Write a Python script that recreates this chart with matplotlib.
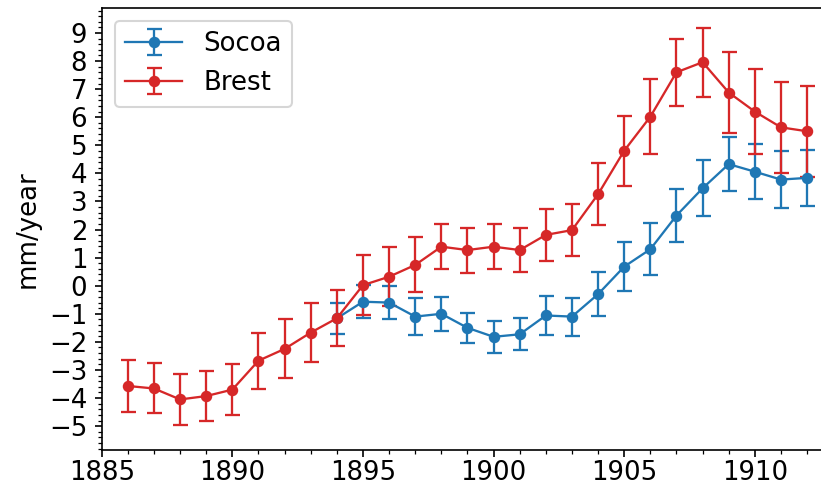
import matplotlib
matplotlib.use("Agg")
import matplotlib.pyplot as plt
from matplotlib.ticker import MultipleLocator

# Brest record, 1886-1912
brest_years = list(range(1886, 1913))
brest_rate = [-3.57, -3.66, -4.05, -3.93, -3.70, -2.67, -2.25, -1.67, -1.16,
              0.02, 0.32, 0.74, 1.39, 1.27, 1.39, 1.27, 1.81, 1.98,
              3.26, 4.81, 6.02, 7.60, 7.96, 6.88, 6.20, 5.64, 5.50]
brest_err = [0.93, 0.89, 0.92, 0.90, 0.92, 1.00, 1.05, 1.04, 1.00,
             1.08, 1.05, 0.98, 0.80, 0.80, 0.80, 0.78, 0.92, 0.93,
             1.10, 1.25, 1.33, 1.20, 1.23, 1.44, 1.51, 1.62, 1.62]

# Socoa record, 1894-1912
socoa_years = list(range(1894, 1913))
socoa_rate = [-1.16, -0.57, -0.60, -1.10, -1.00, -1.50, -1.82, -1.73, -1.06, -1.10,
              -0.30, 0.68, 1.30, 2.50, 3.47, 4.33, 4.06, 3.78, 3.84]
socoa_err = [0.56, 0.59, 0.60, 0.65, 0.60, 0.53, 0.57, 0.57, 0.70, 0.68,
             0.79, 0.88, 0.92, 0.95, 1.00, 0.96, 0.97, 1.00, 1.00]

plt.rcParams['font.size'] = 12.5

fig = plt.figure(figsize=(821 / 150, 488 / 150), dpi=150)
ax = fig.add_axes([0.1239, 0.0779, 0.891, 0.9057])

style = dict(marker='o', markersize=4.5, capsize=3.6, lw=1.1, elinewidth=1.1, capthick=1.1)
ax.errorbar(socoa_years, socoa_rate, yerr=socoa_err, color='tab:blue', label='Socoa', **style)
ax.errorbar(brest_years, brest_rate, yerr=brest_err, color='tab:red', label='Brest', **style)

ax.set_xlim(1885, 1913)
ax.set_ylim(-5.85, 9.89)
ax.xaxis.set_major_locator(MultipleLocator(5))
ax.xaxis.set_minor_locator(MultipleLocator(1))
ax.yaxis.set_major_locator(MultipleLocator(1))
ax.yaxis.set_minor_locator(MultipleLocator(0.2))
ax.tick_params(axis='x', pad=1.5)
ax.set_ylabel('mm/year')
ax.legend(loc='upper left', handlelength=2.2)

fig.savefig('out.png', dpi=150)
